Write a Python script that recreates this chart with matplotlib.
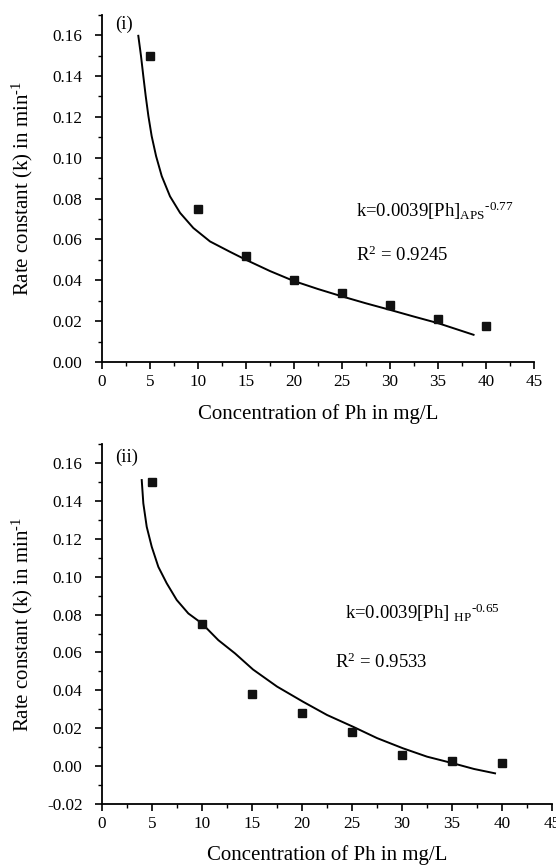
import numpy as np
import matplotlib
matplotlib.use("Agg")
import matplotlib.pyplot as plt
from matplotlib.ticker import MultipleLocator, FormatStrFormatter

plt.rcParams['font.family'] = ['Liberation Serif', 'DejaVu Serif']
plt.rcParams['mathtext.fontset'] = 'custom'
plt.rcParams['mathtext.rm'] = 'Liberation Serif'
plt.rcParams['mathtext.it'] = 'Liberation Serif:italic'
plt.rcParams['mathtext.bf'] = 'Liberation Serif:bold'

########## data ##########
conc = [5, 10, 15, 20, 25, 30, 35, 40]

# (i) APS
k_aps = [0.150, 0.075, 0.052, 0.040, 0.0337, 0.0278, 0.021, 0.0178]
fit_aps_x = [3.78, 4.06, 4.30, 4.55, 4.83, 5.17, 5.63, 6.22, 7.08, 8.13, 9.51, 11.25,
             13.3, 15.0, 17.5, 20.0, 22.5, 25.0, 27.5, 30.0, 32.5, 35.0, 38.7]
fit_aps_y = [0.1597, 0.1498, 0.140, 0.1302, 0.1204, 0.1106, 0.1008, 0.0910, 0.0811, 0.0730,
             0.0656, 0.0590, 0.0540, 0.0500, 0.0445, 0.0396, 0.0357, 0.0321, 0.0287,
             0.0255, 0.0222, 0.0190, 0.0133]

# (ii) HP
k_hp = [0.150, 0.075, 0.038, 0.0282, 0.0182, 0.0059, 0.0027, 0.0015]
fit_hp_x = [3.97, 4.13, 4.47, 4.97, 5.63, 6.47, 7.47, 8.63, 9.97, 11.63, 13.3, 15.1,
            17.5, 20.1, 22.5, 25.1, 27.5, 30.1, 32.5, 35.1, 37.2, 39.3]
fit_hp_y = [0.151, 0.1387, 0.1263, 0.1158, 0.1052, 0.0965, 0.0877, 0.0806, 0.0754, 0.0665,
            0.0595, 0.0510, 0.0420, 0.0340, 0.0270, 0.0208, 0.0148, 0.0094, 0.0050,
            0.0015, -0.0015, -0.0038]

xlab = 'Concentration of Ph in mg/L'
ylab = 'Rate constant (k) in min$^{\\text{-1}}$'

fig = plt.figure(figsize=(5.56, 8.68), dpi=100)
ax1 = fig.add_axes([0.1835, 0.583, 0.777, 0.400])
ax2 = fig.add_axes([0.1835, 0.0737, 0.8094, 0.4147])


def style(ax, ymin, xpad, ylx):
    for s in ['top', 'right']:
        ax.spines[s].set_visible(False)
    for s in ['left', 'bottom']:
        ax.spines[s].set_linewidth(1.3)
    ax.set_xlim(0, 45)
    ax.set_ylim(ymin, 0.17)
    ax.xaxis.set_major_locator(MultipleLocator(5))
    ax.xaxis.set_minor_locator(MultipleLocator(2.5))
    ax.yaxis.set_major_locator(MultipleLocator(0.02))
    ax.yaxis.set_minor_locator(MultipleLocator(0.01))
    ax.yaxis.set_major_formatter(FormatStrFormatter('%.2f'))
    ax.tick_params(which='major', direction='out', length=5, width=1.2, labelsize=12.3)
    ax.tick_params(which='minor', direction='out', length=3, width=1.0)
    ax.tick_params(axis='y', which='major', pad=9)
    ax.set_xlabel(xlab, fontsize=15, labelpad=xpad)
    ax.set_ylabel(ylab, fontsize=15)
    ax.yaxis.set_label_coords(ylx, 0.5)


######## (i) ########
style(ax1, 0.0, 10, -0.156)
ax1.plot(fit_aps_x, fit_aps_y, color='black', lw=1.4)
ax1.plot(conc, k_aps, 's', color='#111111', ms=5.2)
ax1.text(1.35, 0.1654, '(i)', fontsize=13.5, va='center')
ax1.text(26.5, 0.074, 'k=0.0039[Ph]$_{\\mathrm{APS}}$${}^{\\text{-0.77}}$', fontsize=13.5, va='center')
ax1.text(26.5, 0.052, 'R$^{2}$ = 0.9245', fontsize=13.5, va='center')

######## (ii) ########
style(ax2, -0.02, 9.5, -0.150)
ax2.plot(fit_hp_x, fit_hp_y, color='black', lw=1.4)
ax2.plot(conc, k_hp, 's', color='#111111', ms=5.2)
ax2.text(1.3, 0.163, '(ii)', fontsize=13.5, va='center')
ax2.text(24.3, 0.081, 'k=0.0039[Ph] $_{\\mathrm{HP}}$${}^{\\text{-0.65}}$', fontsize=13.5, va='center')
ax2.text(23.3, 0.055, 'R$^{2}$ = 0.9533', fontsize=13.5, va='center')

fig.savefig('out.png', dpi=100)
